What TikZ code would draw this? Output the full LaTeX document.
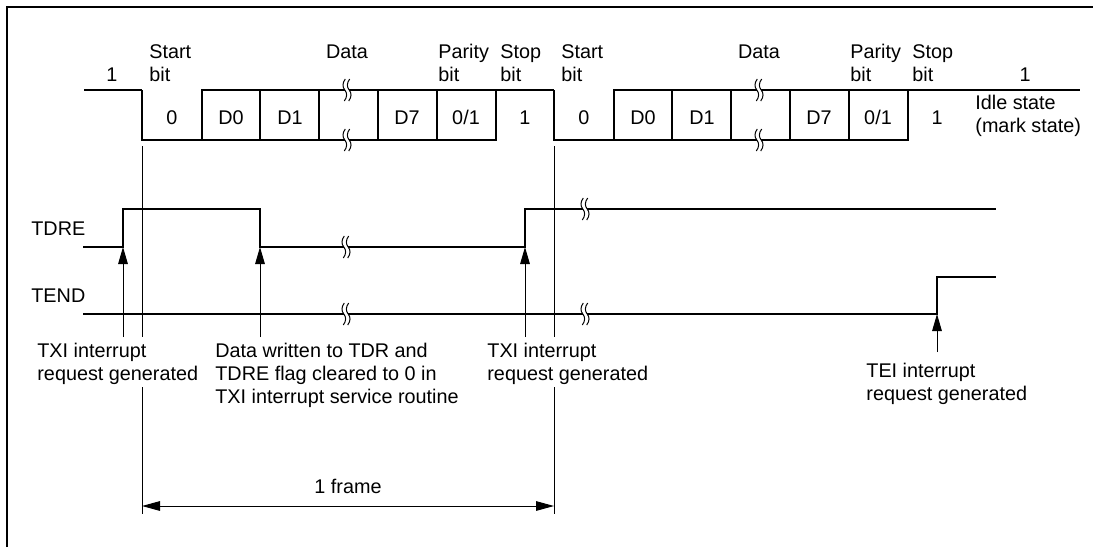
\documentclass[tikz,border=0pt]{standalone}
\usepackage{fontspec}
\setmainfont{Liberation Sans}
\usetikzlibrary{arrows.meta}
\tikzset{
  sig/.style={line width=0.65pt},
  guide/.style={line width=0.5pt},
  lbl/.style={inner sep=0pt,align=left,anchor=north west},
  upar/.style={guide,-{Triangle[length=8.5pt,width=4.8pt]}},
  brk/.pic={\fill[white] (-2.2,-1.5) rectangle (2.2,1.5);
    \foreach \d in {-2.2,2.2}
      \draw[line width=0.5pt] (\d+0.5,-11) .. controls (\d-2.5,-7) and (\d-2.5,-3) .. (\d,0)
        .. controls (\d+2.5,3) and (\d+2.5,7) .. (\d-0.5,11);}
}
\begin{document}
\begin{tikzpicture}[x=0.5pt,y=-0.5pt,every node/.style={font=\fontsize{9.9pt}{11.5pt}\selectfont}]
\useasboundingbox (0,0) rectangle (1093,547);
\draw[line width=0.9pt] (7,547) -- (7,7) -- (1093,7);

\draw[sig] (84,90) -- (142,90);
\draw[sig] (966,90) -- (1080,90);
\foreach \sh in {0,412} {
  \draw[sig] (\sh+142,90) -- (\sh+142,140) -- (\sh+496,140) -- (\sh+496,90);
  \draw[sig] (\sh+202,140) -- (\sh+202,90) -- (\sh+554,90);
  \foreach \x in {260,319,378,437} \draw[sig] (\sh+\x,90) -- (\sh+\x,140);
  \pic at (\sh+347,90) {brk};
  \pic at (\sh+347,140) {brk};
  \foreach \t/\x in {0/172,D0/231,D1/290,D7/407,{0/1}/466,1/525}
    \node[anchor=base] (v\sh-\x) at (\sh+\x,124) {\t};
  \node[lbl] (st\sh) at (\sh+149,44) {Start\\bit};
  \node[anchor=base] (da\sh) at (\sh+347,58) {Data};
  \node[lbl] (pa\sh) at (\sh+438,44) {Parity\\bit};
  \node[lbl] (sp\sh) at (\sh+500,44) {Stop\\bit};
}
\node[anchor=base] (one1) at (112,81) {1};
\node[anchor=base] (one2) at (1025,81) {1};
\node[lbl] (idle) at (975,95) {Idle state\\(mark state)};

\node[lbl] (tdre) at (31,221) {TDRE};
\node[lbl] (tend) at (31,288) {TEND};
\draw[sig] (83,247) -- (123,247) -- (123,209) -- (260,209) -- (260,247) -- (525,247) -- (525,209) -- (996,209);
\draw[sig] (83,314) -- (937,314) -- (937,277) -- (996,277);
\foreach \x/\y in {346/247,346/314,585/209,585/314} \pic at (\x,\y) {brk};

\foreach \x [count=\i] in {123,260,525} {
  \coordinate (e\i) at (\x,247);
  \coordinate (f\i) at (\x,337);
  \draw[upar] (f\i) -- (e\i);
}
\coordinate (e4) at (937,314);
\coordinate (f4) at (937,352);
\draw[upar] (f4) -- (e4);

\foreach \x in {142,554} {
  \draw[guide] (\x,146) -- (\x,337);
  \draw[guide] (\x,387) -- (\x,514);
}
\coordinate (fl) at (142,506);
\coordinate (fr) at (554,506);
\draw[guide,{Triangle[length=9pt,width=4.8pt]}-{Triangle[length=9pt,width=4.8pt]}] (fl) -- node[above=6pt,inner sep=0pt] (frm) {1 frame} (fr);

\node[lbl] (txi1) at (37,343) {TXI interrupt\\request generated};
\node[lbl] (wr) at (215,343) {Data written to TDR and\\TDRE flag cleared to 0 in\\TXI interrupt service routine};
\node[lbl] (txi2) at (487,343) {TXI interrupt\\request generated};
\node[lbl] (tei) at (866,363) {TEI interrupt\\request generated};
\end{tikzpicture}
\end{document}
